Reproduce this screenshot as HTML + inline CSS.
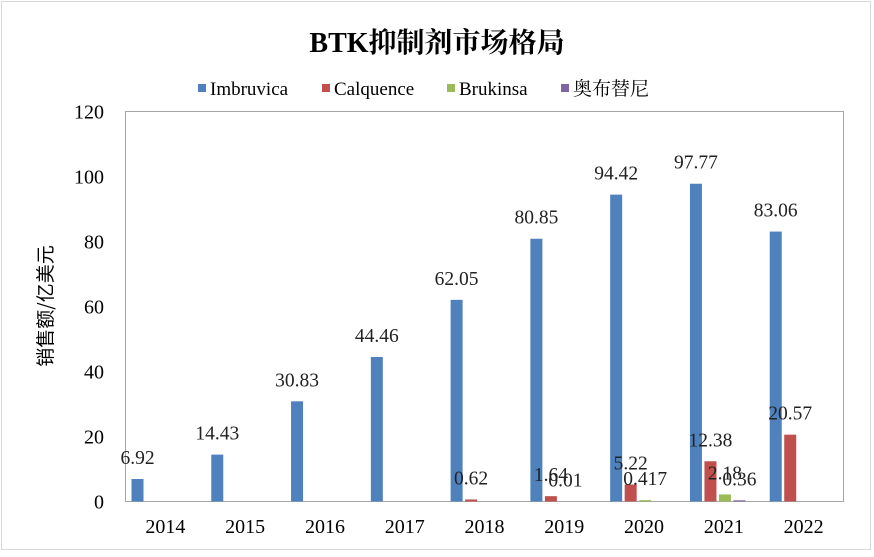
<!DOCTYPE html>
<html><head><meta charset="utf-8"><style>
body{margin:0;background:#fff;}
svg text{font-family:"Liberation Serif","Noto Serif CJK SC",serif;}
</style></head><body>
<svg id="chart" width="874" height="552" xmlns="http://www.w3.org/2000/svg">
<rect x="1.5" y="1.5" width="869" height="548" fill="#fff" stroke="#d9d9d9"/>
<text x="437" y="52" text-anchor="middle" font-size="28" font-weight="bold">BTK抑制剂市场格局</text>
<g id="legend"></g>
<rect x="125.5" y="111.5" width="718" height="390" fill="none" stroke="#a6a6a6"/>
<g id="yaxis"></g>
<g id="xaxis"></g>
<g id="bars"></g>
<text transform="translate(52,306) rotate(-90)" text-anchor="middle" font-size="19" style="font-family:'Noto Sans CJK SC',sans-serif">销售额/亿美元</text>
</svg>
<script>
const categories=["2014","2015","2016","2017","2018","2019","2020","2021","2022"];
const seriesNames=["Imbruvica","Calquence","Brukinsa","奥布替尼"];
const imbruvica=[6.92,14.43,30.83,44.46,62.05,80.85,94.42,97.77,83.06];
const calquence=[null,null,null,null,0.62,1.64,5.22,12.38,20.57];
const brukinsa=[null,null,null,null,null,0.01,0.417,2.18,null];
const aobutini=[null,null,null,null,null,null,null,0.36,null];
const yTicks=[0,20,40,60,80,100,120];
const colors=["#4f81bd","#c0504d","#9bbb59","#8064a2"];
const NS="http://www.w3.org/2000/svg";
const svg=document.getElementById('chart');
const x0=125.5,pw=718,y0=501.5,ph=390,ymax=120;
const band=pw/categories.length;
const ys=v=>y0-v/ymax*ph;
const xs=(i,s)=>x0+i*band+6+s*14.5;
function mk(tag,attrs,parent){const e=document.createElementNS(NS,tag);for(const k in attrs)e.setAttribute(k,attrs[k]);parent.appendChild(e);return e;}
const ya=document.getElementById('yaxis');
yTicks.forEach(t=>{const e=mk('text',{x:104,y:ys(t)+7,'text-anchor':'end','font-size':20},ya);


e.textContent=t;});
const xa=document.getElementById('xaxis');
categories.forEach((c,i)=>{const e=mk('text',{x:x0+(i+0.5)*band,y:533,'text-anchor':'middle','font-size':20},xa);


e.textContent=c;});
const all=[imbruvica,calquence,brukinsa,aobutini];
const bg=document.getElementById('bars');
all.forEach((arr,s)=>{arr.forEach((v,i)=>{if(v==null)return;
const r=mk('rect',{x:xs(i,s),y:ys(v),width:12,height:y0-ys(v),fill:colors[s]},bg);


const t=mk('text',{x:xs(i,s)+6,y:ys(v)-15,'text-anchor':'middle','font-size':19.5,fill:'#222'},bg);


t.textContent=v;});});
const lg=document.getElementById('legend');
const lx=[198,322,447,561];
seriesNames.forEach((n,s)=>{mk('rect',{x:lx[s],y:84,width:8,height:8,fill:colors[s]},lg);
const t=mk('text',{x:lx[s]+12,y:95,'font-size':19},lg);


t.textContent=n;});
</script>
</body></html>
